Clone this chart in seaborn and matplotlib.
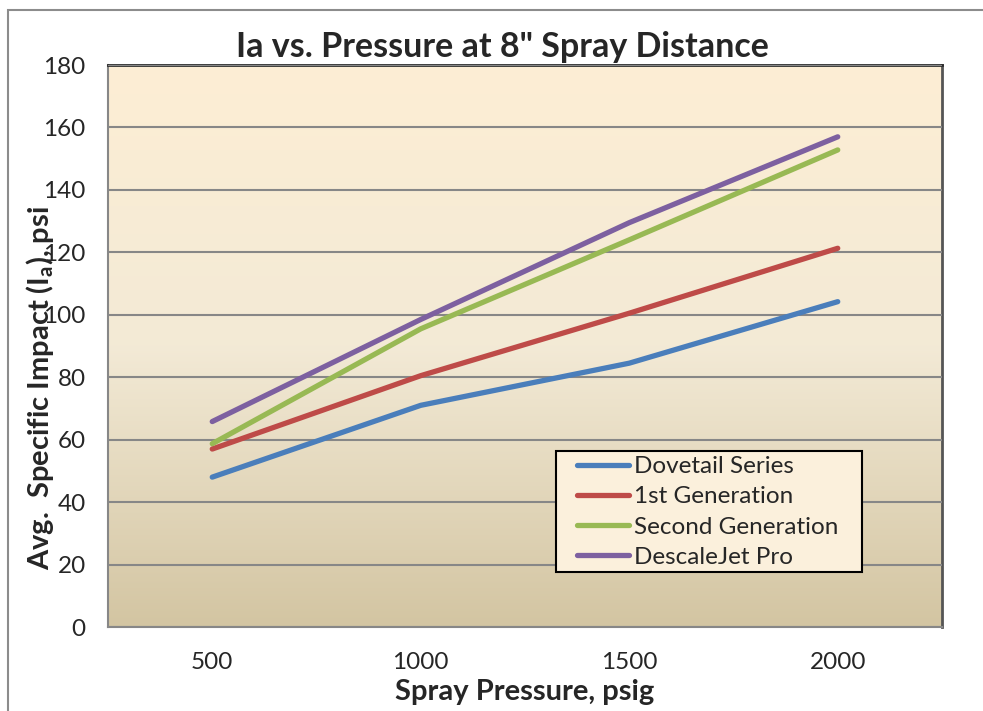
import numpy as np
import pandas as pd
import matplotlib
matplotlib.use("Agg")
import matplotlib.pyplot as plt
import seaborn as sns
from matplotlib.colors import LinearSegmentedColormap
from matplotlib.patches import Rectangle

# data
pressures = ["500", "1000", "1500", "2000"]
dovetail = [48.0, 71.0, 84.5, 104.2]
first_gen = [57.0, 80.5, 100.5, 121.3]
second_gen = [58.7, 95.5, 124.0, 152.8]
descalejet = [65.8, 98.5, 129.5, 157.0]
series_names = ["Dovetail Series", "1st Generation", "Second Generation", "DescaleJet Pro"]
colors = ["#4A7EBB", "#BE4B48", "#98B954", "#7D60A0"]

df = pd.DataFrame({
    "pressure": pressures * 4,
    "impact": dovetail + first_gen + second_gen + descalejet,
    "series": np.repeat(series_names, len(pressures)),
})

sns.set_style("white")
plt.rcParams["font.family"] = ["Lato", "DejaVu Sans"]

W, H = 983, 711
fig = plt.figure(figsize=(W/100, H/100), dpi=100)
ax = fig.add_axes([108/W, 1-627/H, (942-108)/W, (627-65)/H])

# outer chart border
fig.patches.append(Rectangle((8/W, -0.05), 1.2, 1-10/H+0.05, transform=fig.transFigure,
                             fill=False, edgecolor="#8c8c8c", linewidth=1.5))

# gradient plot area
cmap = LinearSegmentedColormap.from_list("bg", ["#FDEED4", "#F3EAD6", "#D3C5A2"])
grad = np.linspace(0, 1, 256).reshape(-1, 1)
ax.imshow(grad, extent=[-0.5, 3.5, 0, 180], aspect="auto", cmap=cmap, zorder=0, origin="upper")

sns.lineplot(data=df, x="pressure", y="impact", hue="series", palette=colors,
             linewidth=3.8, ax=ax, sort=False, zorder=3,
             solid_capstyle="round")

ax.set_xlim(-0.5, 3.5)
ax.set_ylim(0, 180)
ax.set_yticks(range(0, 181, 20))
ax.yaxis.grid(True, color="#878787", linewidth=1.5, zorder=1)
ax.set_axisbelow(False)
for ln in ax.get_ygridlines():
    ln.set_zorder(1)

ax.set_xticks(range(4))
ax.set_xticklabels(pressures)
ax.set_xticks(np.arange(-0.5, 3.6, 1), minor=True)
ax.tick_params(axis="x", which="major", length=0, pad=18, labelsize=17.5)
ax.tick_params(axis="x", which="minor", length=7, width=1.2, color="#878787", direction="out")
ax.tick_params(axis="y", length=7, width=1.2, color="#878787", direction="out", labelsize=17.5, pad=9)

for s in ["left", "bottom"]:
    ax.spines[s].set_color("#878787")
    ax.spines[s].set_linewidth(1.5)
ax.spines["top"].set_color("#2b2b2b")
ax.spines["top"].set_linewidth(2)
ax.spines["right"].set_color("#555555")
ax.spines["right"].set_linewidth(2)

ax.set_title("Ia vs. Pressure at 8\" Spray Distance", fontsize=24.5, fontweight="bold",
             x=(502-108)/834, pad=6)
ax.set_xlabel("Spray Pressure, psig", fontsize=21, fontweight="bold", labelpad=4)
ax.set_ylabel("Avg.  Specific Impact (I$_\\mathregular{a}$), psi", fontsize=21, fontweight="bold")
ax.yaxis.set_label_coords(-0.062, 0.425)

# legend box drawn separately so the entries can sit where the reference has them
def ax_x(px):
    return (px - 108) / 834

def ax_y(py):
    return (627 - py) / 562

ax.add_patch(Rectangle((ax_x(556), ax_y(572)), ax_x(862) - ax_x(556), ax_y(451) - ax_y(572),
                       transform=ax.transAxes, facecolor="#FBF0DC", edgecolor="black",
                       linewidth=1.5, zorder=6))
leg = ax.legend(loc="upper left", bbox_to_anchor=(ax_x(577), ax_y(456)),
                fontsize=17.5, frameon=False, handlelength=2.15,
                borderaxespad=0, borderpad=0, labelspacing=0.38, handletextpad=0.2)
leg.set_zorder(7)
for h in leg.get_lines():
    h.set_linewidth(3.8)
    h.set_solid_capstyle("round")

fig.savefig("out.png", dpi=100)
